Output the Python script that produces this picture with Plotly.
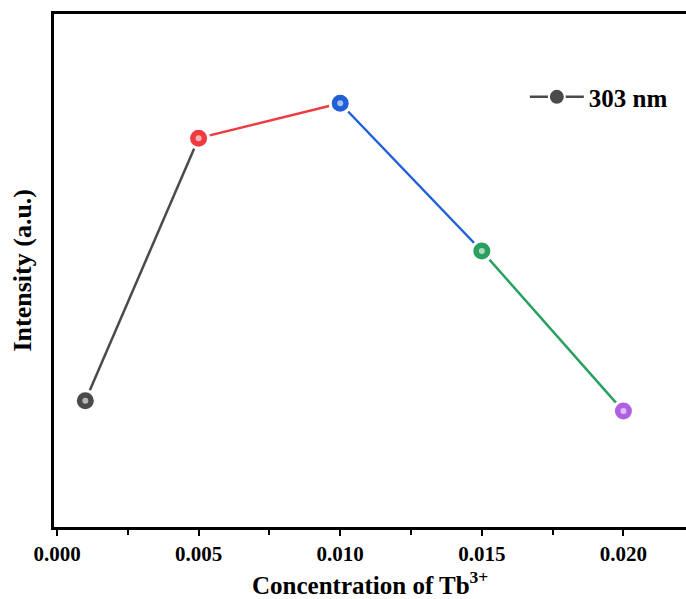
import plotly.graph_objects as go

concentration = [0.001, 0.005, 0.010, 0.015, 0.020]
intensity = [0.246, 0.758, 0.826, 0.538, 0.226]
point_colors = ["#4a4a4a", "#ee3b40", "#1f5fd8", "#2aa05e", "#b05fe0"]
tick_vals = [0.000, 0.005, 0.010, 0.015, 0.020]
tick_text = ["0.000", "0.005", "0.010", "0.015", "0.020"]
series_name = "303 nm"
x_title = "Concentration of Tb<sup>3+</sup>"
y_title = "Intensity (a.u.)"

FONT = "Liberation Serif"
fig = go.Figure()

# colored line segments (each coloured like its starting point)
for i in range(len(concentration) - 1):
    fig.add_trace(go.Scatter(
        x=concentration[i:i + 2], y=intensity[i:i + 2], mode="lines",
        line=dict(color=point_colors[i], width=2.5),
        showlegend=False, hoverinfo="skip"))

# sphere-like markers
fig.add_trace(go.Scatter(
    x=concentration, y=intensity, mode="markers",
    marker=dict(size=20, color=point_colors,
                line=dict(color="white", width=3)),
    showlegend=False))
fig.add_trace(go.Scatter(
    x=concentration, y=intensity, mode="markers",
    marker=dict(size=6, color="rgba(255,255,255,0.6)", line=dict(width=0)),
    showlegend=False, hoverinfo="skip"))

# legend entry
fig.add_trace(go.Scatter(
    x=[None], y=[None], mode="lines+markers", name="<b>" + series_name + "</b>",
    line=dict(color=point_colors[0], width=2.5),
    marker=dict(size=18, color=point_colors[0],
                line=dict(color="white", width=2))))

fig.update_layout(
    width=686, height=599,
    margin=dict(l=54, r=0, t=14, b=72),
    paper_bgcolor="white", plot_bgcolor="white",
    font=dict(family=FONT, color="black"),
    showlegend=True,
    legend=dict(x=0.745, y=0.838, xanchor="left", yanchor="middle",
                bgcolor="rgba(0,0,0,0)",
                font=dict(family=FONT, size=25, color="black"),
                itemwidth=54),
    xaxis=dict(range=[-0.000106, 0.02221], showgrid=False, zeroline=False,
               automargin=False,
               showline=True, linecolor="black", linewidth=2.5, mirror=True,
               ticks="outside", ticklen=6, tickwidth=2, tickcolor="black",
               tickvals=tick_vals, ticktext=["<b>" + t + "</b>" for t in tick_text],
               tickfont=dict(family=FONT, size=21, color="black"),
               minor=dict(dtick=0.0025, tick0=0, ticks="outside", ticklen=5,
                          tickwidth=2, tickcolor="black")),
    yaxis=dict(range=[0, 1], showgrid=False, zeroline=False, automargin=False,
               showline=True, linecolor="black", linewidth=2.5, mirror=False,
               showticklabels=False, ticks=""),
    annotations=[
        dict(text="<b>" + x_title + "</b>", xref="paper", yref="paper",
             x=0.5, y=0, yshift=-56, xanchor="center", yanchor="middle",
             showarrow=False, font=dict(family=FONT, size=25, color="black")),
        dict(text="<b>" + y_title + "</b>", xref="paper", yref="paper",
             x=0, y=0.5, xshift=-32, xanchor="center", yanchor="middle",
             textangle=-90, showarrow=False,
             font=dict(family=FONT, size=26, color="black")),
    ],
)

fig.write_html("out.html",
               config={"displayModeBar": False},
               post_script="document.body.style.margin='0px';"
                           "document.body.style.overflow='hidden';")
